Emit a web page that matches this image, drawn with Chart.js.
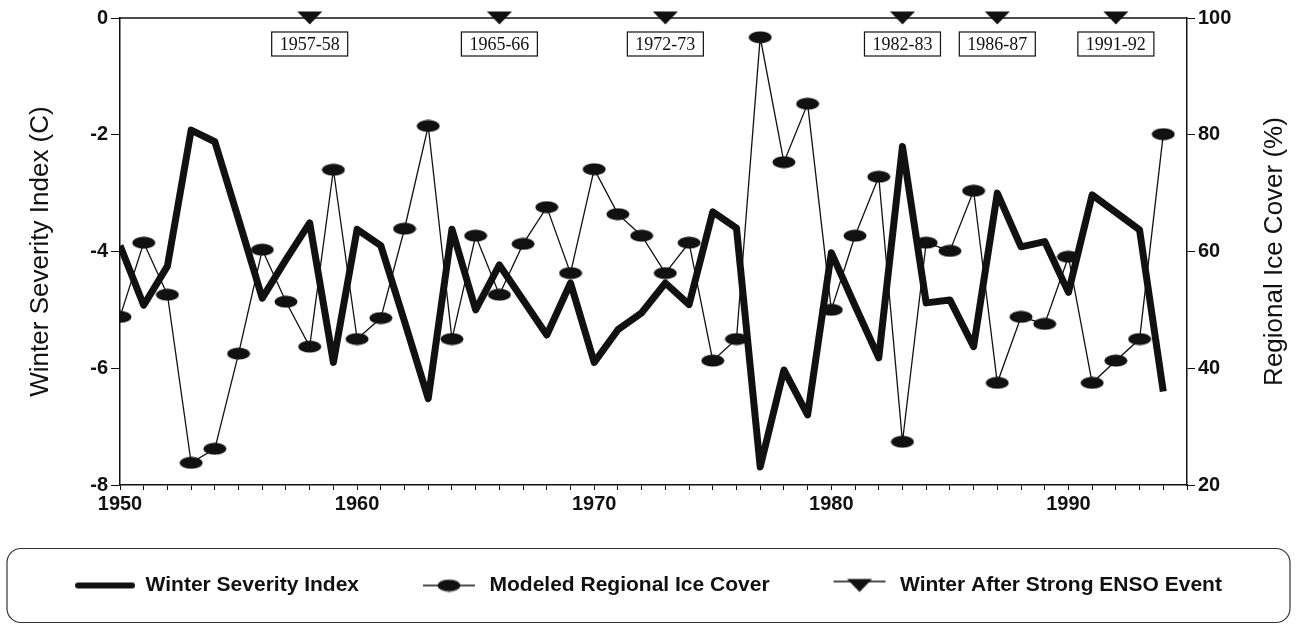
<!DOCTYPE html>
<html>
<head>
<meta charset="utf-8">
<title>Winter Severity Index and Regional Ice Cover</title>
<script src="https://cdn.jsdelivr.net/npm/chart.js@4.4.1/dist/chart.umd.min.js"></script>
<style>
  html, body { margin: 0; padding: 0; background: #fff; }
</style>
</head>
<body>
<canvas id="iceChart" width="1297" height="625"></canvas>
<script>
// values
const years = [1950, 1951, 1952, 1953, 1954, 1955, 1956, 1957, 1958, 1959,
  1960, 1961, 1962, 1963, 1964, 1965, 1966, 1967, 1968, 1969,
  1970, 1971, 1972, 1973, 1974, 1975, 1976, 1977, 1978, 1979,
  1980, 1981, 1982, 1983, 1984, 1985, 1986, 1987, 1988, 1989,
  1990, 1991, 1992, 1993, 1994];
const severityIndex = [-3.9, -4.92, -4.25, -1.92, -2.12, -3.45, -4.8, -4.14, -3.51, -5.9,
  -3.62, -3.9, -5.2, -6.52, -3.62, -5.0, -4.23, -4.83, -5.43, -4.54,
  -5.9, -5.34, -5.05, -4.54, -4.91, -3.32, -3.6, -7.69, -6.03, -6.8,
  -4.02, -4.93, -5.82, -2.2, -4.88, -4.83, -5.63, -3.0, -3.92, -3.83,
  -4.7, -3.03, -3.33, -3.63, -6.4];
const iceCover = [48.8, 61.5, 52.6, 23.8, 26.2, 42.5, 60.3, 51.4, 43.7, 74.0,
  45.0, 48.6, 63.9, 81.5, 45.0, 62.7, 52.6, 61.3, 67.6, 56.3,
  74.1, 66.4, 62.7, 56.3, 61.5, 41.3, 45.0, 96.7, 75.3, 85.3,
  50.0, 62.7, 72.8, 27.4, 61.5, 60.1, 70.4, 37.5, 48.8, 47.6,
  59.1, 37.5, 41.3, 45.0, 80.1];
const ensoYears = [1958, 1966, 1973, 1983, 1987, 1992];
const ensoLabels = ['1957-58', '1965-66', '1972-73', '1982-83', '1986-87', '1991-92'];
const xTickLabels = ['1950', '1960', '1970', '1980', '1990'];

const INK = '#111';
const SANS = '"Liberation Sans", Arial, Helvetica, sans-serif';
const SERIF = '"Liberation Serif", "Times New Roman", serif';

function makeSymbol(w, h, draw) {
  const c = document.createElement('canvas');
  c.width = w;
  c.height = h;
  const g = c.getContext('2d');
  g.fillStyle = INK;
  g.strokeStyle = INK;
  draw(g, w, h);
  return c;
}

const ellipseMark = makeSymbol(24, 13, (g, w, h) => {
  g.beginPath();
  g.ellipse(w / 2, h / 2, w / 2 - 0.5, h / 2 - 0.5, 0, 0, Math.PI * 2);
  g.fill();
});
const triangleMark = makeSymbol(26, 14, (g, w, h) => {
  g.beginPath();
  g.moveTo(0.5, 0.5);
  g.lineTo(w - 0.5, 0.5);
  g.lineTo(w / 2, h - 0.5);
  g.closePath();
  g.fill();
});

// legend keys: line plus marker
const keyThick = makeSymbol(60, 16, (g, w, h) => {
  g.lineWidth = 6;
  g.lineCap = 'round';
  g.beginPath(); g.moveTo(3, h / 2); g.lineTo(w - 3, h / 2); g.stroke();
});
const keyIce = makeSymbol(60, 16, (g, w, h) => {
  g.lineWidth = 1.5;
  g.beginPath(); g.moveTo(4, h / 2); g.lineTo(w - 4, h / 2); g.stroke();
  g.drawImage(ellipseMark, w / 2 - 12, h / 2 - 6.5);
});
const keyEnso = makeSymbol(60, 16, (g, w, h) => {
  g.lineWidth = 1.5;
  g.beginPath(); g.moveTo(4, 4); g.lineTo(w - 4, 4); g.stroke();
  g.drawImage(triangleMark, w / 2 - 13, 1);
});

const framePlugin = {
  id: 'frame',
  afterDraw(chart) {
    const ctx = chart.ctx;
    const a = chart.chartArea;
    ctx.save();
    ctx.strokeStyle = INK;
    ctx.lineWidth = 1.5;
    // top edge of the plot box
    ctx.beginPath();
    ctx.moveTo(a.left, a.top);
    ctx.lineTo(a.right, a.top);
    ctx.stroke();

    // rounded frame round the legend
    const lg = chart.legend;
    const cy = lg.top + lg.options.labels.padding + lg.options.labels.font.size / 2;
    ctx.lineWidth = 1.2;
    ctx.strokeStyle = '#333';
    ctx.beginPath();
    ctx.roundRect(7, cy - 37, chart.width - 14, 74, 14);
    ctx.stroke();

    // right axis title, reading bottom to top
    const r = chart.scales.y1;
    ctx.fillStyle = INK;
    ctx.font = '26px ' + SANS;
    ctx.textAlign = 'center';
    ctx.textBaseline = 'middle';
    ctx.translate(r.right - 22, (a.top + a.bottom) / 2);
    ctx.rotate(-Math.PI / 2);
    ctx.fillText('Regional Ice Cover (%)', 0, 0);
    ctx.restore();
  }
};

const ensoLabelPlugin = {
  id: 'ensoLabels',
  afterDatasetsDraw(chart) {
    const ctx = chart.ctx;
    const meta = chart.getDatasetMeta(2);
    const top = chart.chartArea.top;
    ctx.save();
    ctx.font = '18px ' + SERIF;
    ctx.textAlign = 'center';
    ctx.textBaseline = 'middle';
    meta.data.forEach((pt, i) => {
      const text = ensoLabels[i];
      const w = ctx.measureText(text).width + 16;
      const cy = top + 26;
      ctx.fillStyle = '#fff';
      ctx.fillRect(pt.x - w / 2, cy - 12, w, 24);
      ctx.strokeStyle = INK;
      ctx.lineWidth = 1.2;
      ctx.strokeRect(pt.x - w / 2, cy - 12, w, 24);
      ctx.fillStyle = INK;
      ctx.fillText(text, pt.x, cy + 1);
    });
    ctx.restore();
  }
};

new Chart(document.getElementById('iceChart'), {
  type: 'line',
  data: {
    datasets: [
      {
        label: 'Winter Severity Index',
        data: years.map((y, i) => ({ x: y, y: severityIndex[i] })),
        yAxisID: 'y',
        borderColor: INK,
        borderWidth: 7,
        borderJoinStyle: 'round',
        pointRadius: 0,
        tension: 0,
        order: 3
      },
      {
        label: 'Modeled Regional Ice Cover',
        data: years.map((y, i) => ({ x: y, y: iceCover[i] })),
        yAxisID: 'y1',
        borderColor: INK,
        borderWidth: 1.3,
        pointStyle: ellipseMark,
        backgroundColor: INK,
        tension: 0,
        order: 2
      },
      {
        label: 'Winter After Strong ENSO Event',
        data: ensoYears.map(y => ({ x: y, y: 0 })),
        yAxisID: 'y',
        showLine: false,
        pointStyle: triangleMark,
        clip: false,
        order: 1
      }
    ]
  },
  options: {
    responsive: false,
    animation: false,
    devicePixelRatio: 1,
    layout: { padding: { top: 18, bottom: 19, left: 0, right: 0 } },
    plugins: {
      tooltip: { enabled: false },
      legend: {
        position: 'bottom',
        labels: {
          usePointStyle: true,
          pointStyleWidth: 60,
          padding: 60,
          color: INK,
          font: { family: SANS, size: 21, weight: 'bold' },
          generateLabels: () => [
            { text: 'Winter Severity Index', pointStyle: keyThick, fontColor: INK, lineWidth: 0, datasetIndex: 0 },
            { text: 'Modeled Regional Ice Cover', pointStyle: keyIce, fontColor: INK, lineWidth: 0, datasetIndex: 1 },
            { text: 'Winter After Strong ENSO Event', pointStyle: keyEnso, fontColor: INK, lineWidth: 0, datasetIndex: 2 }
          ]
        }
      }
    },
    scales: {
      x: {
        type: 'linear',
        min: 1950,
        max: 1995,
        ticks: {
          stepSize: 1,
          autoSkip: false,
          maxRotation: 0,
          padding: 2,
          color: INK,
          font: { family: SANS, size: 20, weight: 'bold' },
          callback: v => (xTickLabels.includes(String(v)) ? String(v) : '')
        },
        grid: { drawOnChartArea: false, tickLength: 5, color: INK },
        border: { color: INK, width: 1.5 },
        afterFit: s => { s.height = 30; }
      },
      y: {
        position: 'left',
        min: -8,
        max: 0,
        ticks: {
          stepSize: 2,
          padding: 3,
          color: INK,
          font: { family: SANS, size: 20, weight: 'bold' }
        },
        grid: { drawOnChartArea: false, tickLength: 9, color: INK },
        border: { color: INK, width: 1.5 },
        title: {
          display: true,
          text: 'Winter Severity Index (C)',
          color: INK,
          font: { family: SANS, size: 26 },
          padding: { top: 25, bottom: 0 }
        },
        afterFit: s => { s.width = 120; }
      },
      y1: {
        position: 'right',
        min: 20,
        max: 100,
        ticks: {
          stepSize: 20,
          padding: 3,
          color: INK,
          font: { family: SANS, size: 20, weight: 'bold' }
        },
        grid: { drawOnChartArea: false, tickLength: 8, color: INK },
        border: { color: INK, width: 1.5 },
        afterFit: s => { s.width = 110; }
      }
    }
  },
  plugins: [framePlugin, ensoLabelPlugin]
});
</script>
</body>
</html>
